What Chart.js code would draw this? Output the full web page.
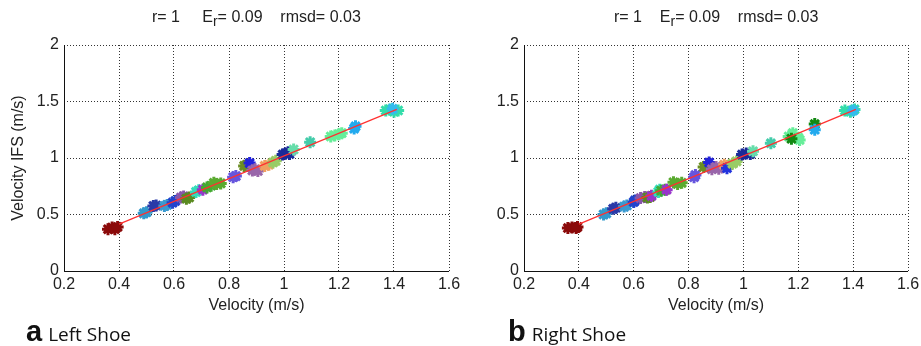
<!DOCTYPE html>
<html>
<head>
<meta charset="utf-8">
<script src="https://cdn.jsdelivr.net/npm/chart.js@4"></script>
<style>
  body { margin: 0; background: #fff; width: 921px; height: 346px; overflow: hidden; position: relative; }
  canvas { position: absolute; top: 0; }
  .ttl { position: absolute; top: 8px; font: 16px "Liberation Sans", Arial, sans-serif; color: #222; white-space: nowrap; }
  .ttl sub { font-size: 14px; vertical-align: -4px; line-height: 0; }
  .lbl { position: absolute; top: 315px; font: 19px "Open Sans", sans-serif; color: #111; white-space: nowrap; }
  .lbl b { font-size: 29px; font-family: "Liberation Sans", Arial, sans-serif; margin-right: 6px; }
</style>
</head>
<body>
<canvas id="left" width="460" height="320" style="left:0"></canvas>
<canvas id="right" width="461" height="320" style="left:460px"></canvas>
<div class="ttl" style="left:152px">r= 1&nbsp;&nbsp;&nbsp;&nbsp;&nbsp;E<sub>r</sub>= 0.09&nbsp;&nbsp;&nbsp;&nbsp;rmsd= 0.03</div>
<div class="ttl" style="left:614px">r= 1&nbsp;&nbsp;&nbsp;&nbsp;E<sub>r</sub>= 0.09&nbsp;&nbsp;&nbsp;&nbsp;rmsd= 0.03</div>
<div class="lbl" style="left:26px"><b>a</b>Left Shoe</div>
<div class="lbl" style="left:508px"><b>b</b>Right Shoe</div>
<script>
// left shoe points
let leftX = [0.36, 0.375, 0.385, 0.395, 0.49, 0.50, 0.525, 0.535, 0.565, 0.575, 0.595, 0.605,
  0.625, 0.635, 0.645, 0.655, 0.68, 0.69, 0.705, 0.72, 0.735, 0.745, 0.755, 0.77, 0.815, 0.825,
  0.855, 0.865, 0.875, 0.875, 0.885, 0.895, 0.905, 0.93, 0.945, 0.96, 0.97, 0.995, 1.005, 1.02, 1.015,
  1.035, 1.095, 1.17, 1.185, 1.2, 1.21, 1.255, 1.26, 1.37, 1.385, 1.40, 1.415, 1.395];
let leftY = [0.37, 0.385, 0.37, 0.39, 0.51, 0.52, 0.575, 0.58, 0.575, 0.585, 0.605, 0.62,
  0.65, 0.66, 0.64, 0.65, 0.70, 0.715, 0.72, 0.74, 0.755, 0.78, 0.77, 0.775, 0.83, 0.84,
  0.93, 0.94, 0.925, 0.955, 0.89, 0.90, 0.885, 0.93, 0.94, 0.96, 0.975, 1.03, 1.04, 1.035, 1.05,
  1.075, 1.14, 1.19, 1.20, 1.21, 1.22, 1.26, 1.28, 1.42, 1.43, 1.41, 1.42, 1.435];
let leftColors = ['#8b0a0a', '#8b0a0a', '#8b0a0a', '#8b0a0a', '#3399cc', '#3399cc', '#2a3aa8', '#2a3aa8',
  '#3a9ad0', '#3a9ad0', '#2244cc', '#2244cc', '#8855aa', '#8855aa', '#5a8a20', '#5a8a20', '#33ddbb', '#33ddbb',
  '#9933cc', '#44aa33', '#44aa33', '#5aaa30', '#5aaa30', '#5aaa30', '#6655dd', '#6655dd',
  '#6b8e23', '#6b8e23', '#6b8e23', '#2222dd', '#9966aa', '#9966aa', '#9966aa', '#f0a060', '#f0a060',
  '#99cc66', '#99cc66', '#1a2a99', '#1a2a99', '#1a2a99', '#1a2a99', '#66ddaa', '#44ccaa',
  '#66ee99', '#66ee99', '#66ee99', '#66ee99', '#22aaee', '#22aaee', '#33ddaa', '#33ddaa', '#33ddaa', '#33ddaa', '#33bbee'];

// right shoe points
let rightX = [0.36, 0.375, 0.39, 0.395, 0.49, 0.50, 0.525, 0.535, 0.565, 0.575, 0.60, 0.605,
  0.625, 0.64, 0.65, 0.66, 0.665, 0.69, 0.695, 0.70, 0.715, 0.72, 0.745, 0.76, 0.775, 0.82, 0.825,
  0.855, 0.865, 0.875, 0.885, 0.90, 0.91, 0.93, 0.94, 0.94, 0.96, 0.975, 0.995, 1.01, 1.025,
  1.035, 1.10, 1.165, 1.18, 1.20, 1.205, 1.175, 1.26, 1.26, 1.37, 1.39, 1.405, 1.40];
let rightY = [0.38, 0.385, 0.38, 0.39, 0.50, 0.51, 0.55, 0.56, 0.57, 0.58, 0.61, 0.625,
  0.645, 0.655, 0.65, 0.655, 0.665, 0.70, 0.72, 0.71, 0.72, 0.72, 0.785, 0.77, 0.78, 0.83, 0.85,
  0.92, 0.93, 0.96, 0.90, 0.92, 0.905, 0.94, 0.93, 0.91, 0.95, 0.97, 1.03, 1.04, 1.035,
  1.06, 1.13, 1.19, 1.22, 1.18, 1.16, 1.17, 1.30, 1.25, 1.42, 1.41, 1.43, 1.42];
let rightColors = ['#8b0a0a', '#8b0a0a', '#8b0a0a', '#8b0a0a', '#3399cc', '#3399cc', '#2a3aa8', '#2a3aa8',
  '#3a9ad0', '#3a9ad0', '#2244cc', '#2244cc', '#8855aa', '#8855aa', '#5a8a20', '#5a8a20', '#9933cc',
  '#33ddbb', '#33ddbb', '#44aa33', '#44aa33', '#9933cc', '#5aaa30', '#5aaa30', '#5aaa30', '#6655dd', '#6655dd',
  '#6b8e23', '#6b8e23', '#2222dd', '#9966aa', '#9966aa', '#9966aa', '#f0a060', '#f0a060', '#2233dd',
  '#99cc66', '#99cc66', '#1a2a99', '#1a2a99', '#1a2a99', '#66ddaa', '#44ccaa',
  '#66ee99', '#66ee99', '#66ee99', '#66ee99', '#118811', '#118811', '#22aaee', '#33ddaa', '#33ddaa', '#33ddaa', '#33bbee'];

// fitted line
let fitX = [0.40, 1.41];
let fitY = [0.415, 1.43];

let xTicks = [0.2, 0.4, 0.6, 0.8, 1, 1.2, 1.4, 1.6];
let yTicks = [0, 0.5, 1, 1.5, 2];

const tickFont = { family: '"Liberation Sans", Arial, sans-serif', size: 16 };
const grid = { color: '#333', drawTicks: false, lineWidth: 1 };
const border = { display: false, dash: [1, 2] };

// solid left/bottom axis lines, like the matlab box
const axisLines = {
  id: 'axisLines',
  afterDraw(chart) {
    const { ctx, chartArea: a } = chart;
    ctx.save();
    ctx.strokeStyle = '#111';
    ctx.lineWidth = 1;
    ctx.beginPath();
    ctx.moveTo(Math.round(a.left) + 0.5, a.top);
    ctx.lineTo(Math.round(a.left) + 0.5, Math.round(a.bottom) + 0.5);
    ctx.lineTo(a.right, Math.round(a.bottom) + 0.5);
    ctx.stroke();
    ctx.restore();
  }
};

function makeChart(id, xs, ys, cols, yTitle, padRight) {
  let pts = xs.map((x, i) => ({ x: x, y: ys[i] }));
  let line = fitX.map((x, i) => ({ x: x, y: fitY[i] }));
  return new Chart(document.getElementById(id).getContext('2d'), {
    type: 'scatter',
    data: {
      datasets: [{
        type: 'line',
        data: line,
        borderColor: '#ff3030',
        borderWidth: 1.2,
        pointRadius: 0,
        order: 0
      }, {
        data: pts,
        pointStyle: 'star',
        pointRadius: 6,
        borderWidth: 3,
        pointBorderColor: cols,
        pointBackgroundColor: cols,
        order: 1
      }]
    },
    plugins: [axisLines],
    options: {
      responsive: false,
      animation: false,
      layout: { padding: { top: 45, right: padRight, left: 0, bottom: 0 } },
      plugins: { legend: { display: false }, tooltip: { enabled: false } },
      scales: {
        x: {
          type: 'linear', min: 0.2, max: 1.6,
          afterBuildTicks: s => { s.ticks = xTicks.map(v => ({ value: v })); },
          afterFit: s => { s.height = 49; s.paddingLeft = 0; s.paddingRight = 0; },
          ticks: { font: tickFont, color: '#222', padding: 4, maxRotation: 0,
            callback: v => String(v) },
          grid: grid,
          border: border,
          title: { display: true, text: 'Velocity (m/s)', color: '#222', font: tickFont,
            padding: { top: 0, bottom: 5 } }
        },
        y: {
          type: 'linear', min: 0, max: 2,
          afterBuildTicks: s => { s.ticks = yTicks.map(v => ({ value: v })); },
          afterFit: s => { s.width = 64; s.paddingTop = 0; s.paddingBottom = 0; },
          ticks: { font: tickFont, color: '#222', padding: 5, callback: v => String(v) },
          grid: grid,
          border: border,
          title: { display: yTitle, text: 'Velocity IFS (m/s)', color: '#222', font: tickFont,
            padding: { top: 9, bottom: 0 } }
        }
      }
    }
  });
}

makeChart('left', leftX, leftY, leftColors, true, 11);
makeChart('right', rightX, rightY, rightColors, false, 13);
</script>
</body>
</html>
